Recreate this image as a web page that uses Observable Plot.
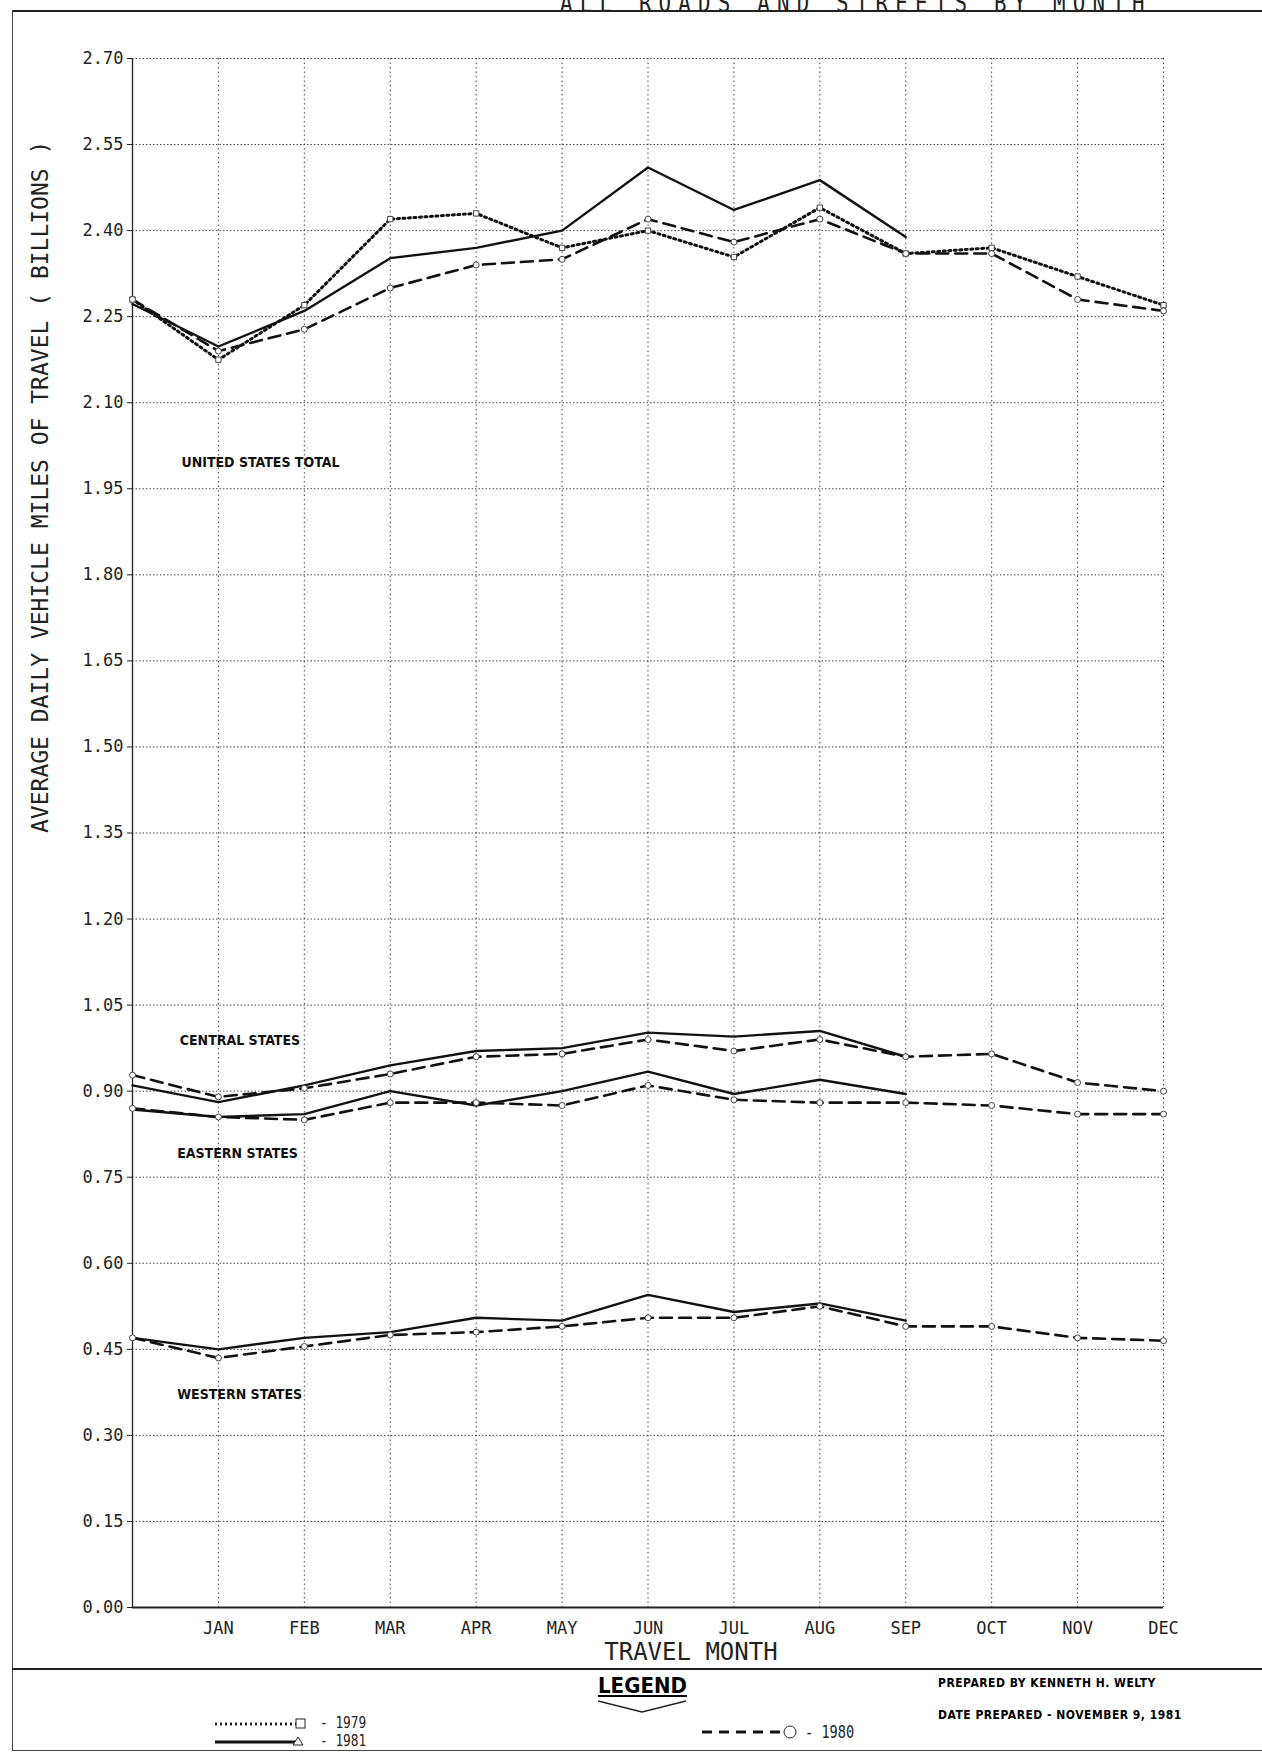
<!DOCTYPE html>
<html>
<head>
<meta charset="utf-8">
<script src="https://cdn.jsdelivr.net/npm/d3@7"></script>
<script src="https://cdn.jsdelivr.net/npm/@observablehq/plot@0.6"></script>
<style>
  body { margin: 0; background: #fff; }
  #page { position: relative; width: 1262px; height: 1752px; overflow: hidden; font-family: "DejaVu Sans Condensed", "DejaVu Sans", sans-serif; }
  .abs { position: absolute; white-space: nowrap; }
  .plotter { font-family: "DejaVu Sans Mono", monospace; font-weight: 300; transform: scaleX(0.8); transform-origin: left top; color: #222; }
  .bold { font-family: "Liberation Sans Narrow", "DejaVu Sans Condensed", sans-serif; font-weight: bold; font-size: 13px; letter-spacing: 0.5px; }
</style>
</head>
<body>
<div id="page">
  <div class="abs plotter" style="left:560px; top:-12px; font-size:26px; letter-spacing:9px;">ALL ROADS AND STREETS BY MONTH</div>
  <div class="abs" style="left:12px; top:10px; width:1250px; height:0; border-top:2px solid #222;"></div>
  <div class="abs" style="left:12px; top:10px; width:0; height:1740px; border-left:1.5px solid #444;"></div>
  <div id="chart" class="abs" style="left:0; top:0;"></div>
  <div class="abs" style="left:12px; top:1668px; width:1250px; height:0; border-top:2px solid #222;"></div>
  <div class="abs" style="left:12px; top:1750px; width:1250px; height:0; border-top:1.5px solid #444;"></div>
  <div class="abs bold" style="left:598px; top:1673px; font-size:22px; text-decoration:underline; letter-spacing:0;">LEGEND</div>
  <svg class="abs" style="left:598px; top:1700px;" width="90" height="14"><polyline points="0,1 44,12 88,1" fill="none" stroke="#222" stroke-width="1.5"/></svg>
  <svg class="abs" style="left:210px; top:1716px;" width="100" height="34">
    <line x1="5" y1="8" x2="88" y2="8" stroke="#222" stroke-width="3" stroke-dasharray="2,3"/>
    <rect x="86" y="3" width="9" height="9" fill="#fff" stroke="#222"/>
    <line x1="5" y1="26" x2="88" y2="26" stroke="#111" stroke-width="3"/>
    <path d="M88,21 L93,29 L83,29 Z" fill="#fff" stroke="#222"/>
  </svg>
  <div class="abs plotter" style="left:320px; top:1714px; font-size:16px; line-height:18px;">- 1979<br>- 1981</div>
  <svg class="abs" style="left:700px; top:1718px;" width="100" height="30">
    <line x1="2" y1="14" x2="92" y2="14" stroke="#111" stroke-width="3" stroke-dasharray="10,7"/>
    <circle cx="90" cy="14" r="6" fill="#fff" stroke="#222"/>
  </svg>
  <div class="abs plotter" style="left:805px; top:1722px; font-size:17px;">- 1980</div>
  <div class="abs bold" style="left:938px; top:1676px; font-size:12px;">PREPARED BY KENNETH H. WELTY</div>
  <div class="abs bold" style="left:938px; top:1708px; font-size:12px;">DATE PREPARED - NOVEMBER 9, 1981</div>
</div>
<script>
const months = ["", "JAN", "FEB", "MAR", "APR", "MAY", "JUN", "JUL", "AUG", "SEP", "OCT", "NOV", "DEC"]
const yTicks = [0, 0.15, 0.30, 0.45, 0.60, 0.75, 0.90, 1.05, 1.20, 1.35, 1.50, 1.65, 1.80, 1.95, 2.10, 2.25, 2.40, 2.55, 2.70]

// United States total
const us1979 = [2.28, 2.175, 2.27, 2.42, 2.43, 2.37, 2.40, 2.354, 2.44, 2.36, 2.37, 2.32, 2.27]
const us1980 = [2.28, 2.19, 2.228, 2.30, 2.34, 2.35, 2.42, 2.38, 2.42, 2.36, 2.36, 2.28, 2.26]
const us1981 = [2.272, 2.198, 2.26, 2.352, 2.37, 2.40, 2.51, 2.436, 2.488, 2.389]
// Regions
const central1980 = [0.928, 0.89, 0.905, 0.93, 0.96, 0.965, 0.99, 0.97, 0.99, 0.96, 0.965, 0.915, 0.90]
const central1981 = [0.91, 0.881, 0.91, 0.945, 0.97, 0.975, 1.002, 0.995, 1.005, 0.96]
const eastern1980 = [0.87, 0.855, 0.85, 0.88, 0.88, 0.875, 0.91, 0.885, 0.88, 0.88, 0.875, 0.86, 0.86]
const eastern1981 = [0.868, 0.855, 0.86, 0.90, 0.875, 0.90, 0.934, 0.895, 0.92, 0.895]
const western1980 = [0.47, 0.435, 0.455, 0.475, 0.48, 0.49, 0.505, 0.505, 0.525, 0.49, 0.49, 0.47, 0.465]
const western1981 = [0.47, 0.45, 0.47, 0.48, 0.505, 0.50, 0.545, 0.515, 0.53, 0.50]

const labels = [
  {x: 0.57, y: 1.995, text: "UNITED STATES TOTAL"},
  {x: 0.55, y: 0.989, text: "CENTRAL STATES"},
  {x: 0.52, y: 0.792, text: "EASTERN STATES"},
  {x: 0.52, y: 0.372, text: "WESTERN STATES"}
]

const series = [
  ["us", 1979, us1979], ["us", 1980, us1980], ["us", 1981, us1981],
  ["central", 1980, central1980], ["central", 1981, central1981],
  ["eastern", 1980, eastern1980], ["eastern", 1981, eastern1981],
  ["western", 1980, western1980], ["western", 1981, western1981]
]
const rows = series.flatMap(([region, year, vals]) => vals.map((v, i) => ({region, year, key: region + year, m: i, v})))
const byYear = y => rows.filter(d => d.year === y)

const style = {
  1979: {strokeWidth: 3, strokeDasharray: "2,3.5"},
  1980: {strokeWidth: 2.6, strokeDasharray: "12,7"},
  1981: {strokeWidth: 2.4}
}

let chart = Plot.plot({
  width: 1262,
  height: 1668,
  marginTop: 58,
  marginLeft: 132,
  marginRight: 99,
  marginBottom: 61,
  style: {fontFamily: "DejaVu Sans Mono", fontSize: 17, background: "none", color: "#222"},
  x: {domain: [0, 12], label: null},
  y: {domain: [0, 2.70], label: null},
  marks: [
    Plot.gridX(d3.range(1, 13), {stroke: "#333", strokeOpacity: 0.9, strokeDasharray: "1.5,3"}),
    Plot.gridY(yTicks.slice(1), {stroke: "#333", strokeOpacity: 0.9, strokeDasharray: "1.5,2"}),
    Plot.ruleX([0], {stroke: "#222", strokeWidth: 1.3}),
    Plot.ruleY([0], {stroke: "#222", strokeWidth: 2}),
    Plot.axisX(d3.range(1, 13), {tickSize: 0, tickPadding: 14, tickFormat: d => months[d], fontSize: 17}),
    Plot.axisY(yTicks, {tickSize: 5, tickFormat: d => d.toFixed(2), fontSize: 17}),
    ...[1979, 1980, 1981].map(y => Plot.line(byYear(y), {x: "m", y: "v", z: "key", stroke: "#111", ...style[y]})),
    Plot.dot(byYear(1979), {x: "m", y: "v", symbol: "square", r: 3, stroke: "#444", fill: "#fff", strokeWidth: 1}),
    Plot.dot(byYear(1980), {x: "m", y: "v", symbol: "circle", r: 3, stroke: "#444", fill: "#fff", strokeWidth: 1}),
    Plot.text(labels, {x: "x", y: "y", text: "text", textAnchor: "start", fontFamily: "Liberation Sans Narrow, DejaVu Sans Condensed", fontWeight: "bold", fontSize: 14, fill: "#111"}),
    Plot.text(["TRAVEL MONTH"], {frameAnchor: "bottom", x: 6.5, dy: 52, fontSize: 24, fontWeight: 300}),
    Plot.text(["AVERAGE DAILY VEHICLE MILES OF TRAVEL ( BILLIONS )"], {frameAnchor: "left", dx: -92, rotate: -90, fontSize: 23, fontWeight: 300, letterSpacing: 2})
  ]
})
d3.select('#chart').append(() => chart)
</script>
</body>
</html>
